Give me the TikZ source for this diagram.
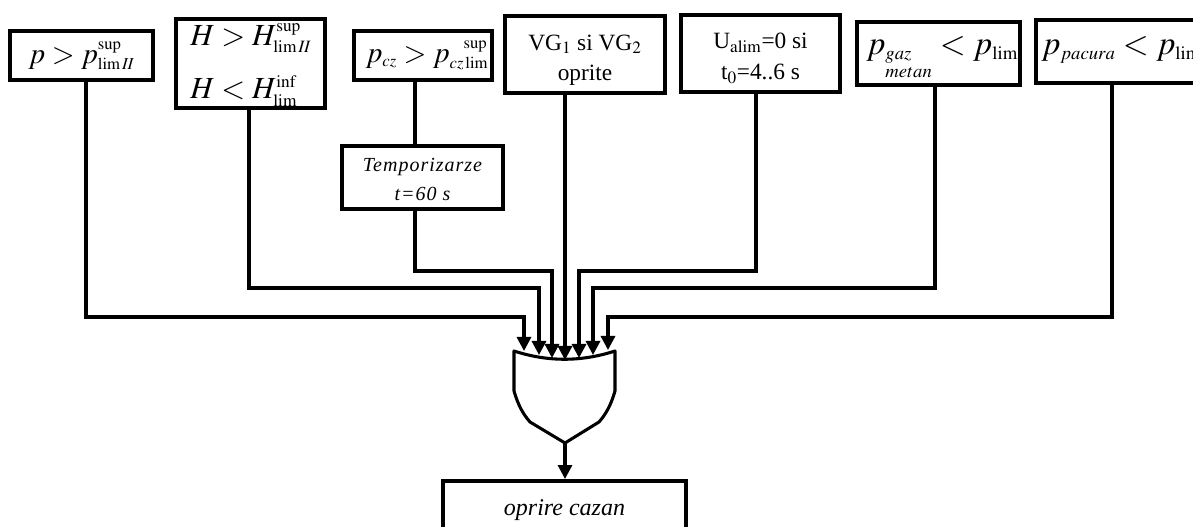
\documentclass[tikz,border=0pt]{standalone}
\usepackage{mathptmx}
\usepackage[no-math]{fontspec}
\setmainfont{Liberation Serif}
\usetikzlibrary{arrows.meta}
\DeclareMathSizes{22}{22}{12.5}{10}
\DeclareMathSizes{23}{23}{13}{10}
\DeclareMathSizes{25}{25}{14}{10}
\tikzset{
  box/.style={draw=black,line width=3pt,fill=white,inner sep=0pt,align=center,font=\fontsize{17.5}{23}\selectfont},
  tip/.tip={Triangle[length=10.5pt,width=10.5pt]},
  wire/.style={draw=black,line width=2.3pt,-{tip}},
  plain/.style={draw=black,line width=2.3pt},
  gatepath/.style={draw=black,line width=2.3pt,line join=round,fill=white}
}
\newcommand{\bigmth}[1]{\fontsize{22}{26}\selectfont$#1$}
\newcommand{\midmth}[1]{\fontsize{23}{26}\selectfont$#1$}
\newcommand{\hugemth}[1]{\fontsize{25}{28}\selectfont$#1$}
\newcommand{\subtxt}[1]{$_{\mathrm{#1}}$}
\begin{document}
\begin{tikzpicture}[x=0.75pt,y=-0.75pt]
\useasboundingbox (0,0) rectangle (1193,527);
\clip (0,0) rectangle (1193,527);
% boxes
\node[box,minimum width=107.25pt,minimum height=36.75pt] (b1) at (81.5,55.5) {\bigmth{p>p^{\mathrm{sup}}_{\lim\mathit{II}}}};
\node[box,minimum width=111.75pt,minimum height=66.75pt] (b2) at (250.5,63.5) {};
\node[inner sep=0pt,anchor=base west] (b2a) at (190,46) {\midmth{H>H^{\mathrm{sup}}_{\lim\mathit{II}}}};
\node[inner sep=0pt,anchor=base west] (b2b) at (190,99) {\midmth{H<H^{\mathrm{inf}}_{\lim}}};
\node[box,minimum width=103.5pt,minimum height=36.75pt] (b3) at (423,55.5) {\hspace*{6pt}\bigmth{p_{cz}>p^{\hphantom{cz}\mathrm{sup}}_{cz\lim}}};
\node[box,minimum width=120.75pt,minimum height=47.25pt,font=\fontsize{15}{22}\selectfont\itshape\addfontfeature{LetterSpace=5}] (tm) at (422.5,177.5) {\rule{0pt}{13pt}Temporizarze\\ t=60 s};
\node[box,minimum width=120pt,minimum height=57.75pt] (vg) at (585,54.5) {\rule{0pt}{20pt}VG\subtxt{1} si VG\subtxt{2}\\ oprite};
\node[box,minimum width=119.25pt,minimum height=57.75pt] (ua) at (760.5,53.5) {\rule{0pt}{19pt}U\subtxt{alim}=0 si\\ t\subtxt{0}=4..6 s};
\node[box,minimum width=122.25pt,minimum height=47.25pt] (gz) at (938.5,53.5) {};
\node[inner sep=0pt,anchor=base west] (gzt) at (866,55) {\hugemth{p_{\vtop{\baselineskip=13.5pt\hbox{$\scriptstyle gaz$}\hbox{$\scriptstyle metan$}}}<p_{\lim}}};
\node[box,minimum width=135pt,minimum height=47.25pt] (pc) at (1126,51.5) {};
\node[inner sep=0pt,anchor=base west] (pct) at (1041,55) {\hugemth{p_{pacura}<p_{\lim}}};
\node[box,minimum width=182.25pt,minimum height=43.5pt,font=\fontsize{18}{20}\selectfont\itshape] (op) at (564.5,510) {oprire cazan};
% gate
\coordinate (gl) at (514,351);
\coordinate (gr) at (615,351);
\coordinate (gbl) at (514,391);
\coordinate (gbr) at (615,391);
\coordinate (gout) at (565,443);
\path[gatepath] (gl) .. controls (548,362) and (581,362) .. (gr) -- (gbr)
  .. controls (611,405) and (606,414) .. (599,422) -- (gout) -- (530,422)
  .. controls (523,414) and (518,405) .. (gbl) -- cycle;
% waypoints
\coordinate (h1) at (86,317); \coordinate (t1) at (524,351);
\coordinate (h2) at (249,288); \coordinate (t2) at (539,355);
\coordinate (h3) at (415,271); \coordinate (t3) at (552,358);
\coordinate (t4) at (565,360);
\coordinate (h5) at (756,271); \coordinate (t5) at (579,358);
\coordinate (h6) at (935,288); \coordinate (t6) at (593,355);
\coordinate (h7) at (1112,317); \coordinate (t7) at (608,350);
\draw[wire] (b1.south -| h1) -- (h1) -- (h1 -| t1) -- (t1);
\draw[wire] (b2.south -| h2) -- (h2) -- (h2 -| t2) -- (t2);
\draw[plain] (b3.south -| h3) -- (tm.north -| h3);
\draw[wire] (tm.south -| h3) -- (h3) -- (h3 -| t3) -- (t3);
\draw[wire] (vg.south -| t4) -- (t4);
\draw[wire] (ua.south -| h5) -- (h5) -- (h5 -| t5) -- (t5);
\draw[wire] (gz.south -| h6) -- (h6) -- (h6 -| t6) -- (t6);
\draw[wire] (pc.south -| h7) -- (h7) -- (h7 -| t7) -- (t7);
\draw[wire] (gout) -- (op.north -| gout);
\end{tikzpicture}
\end{document}
